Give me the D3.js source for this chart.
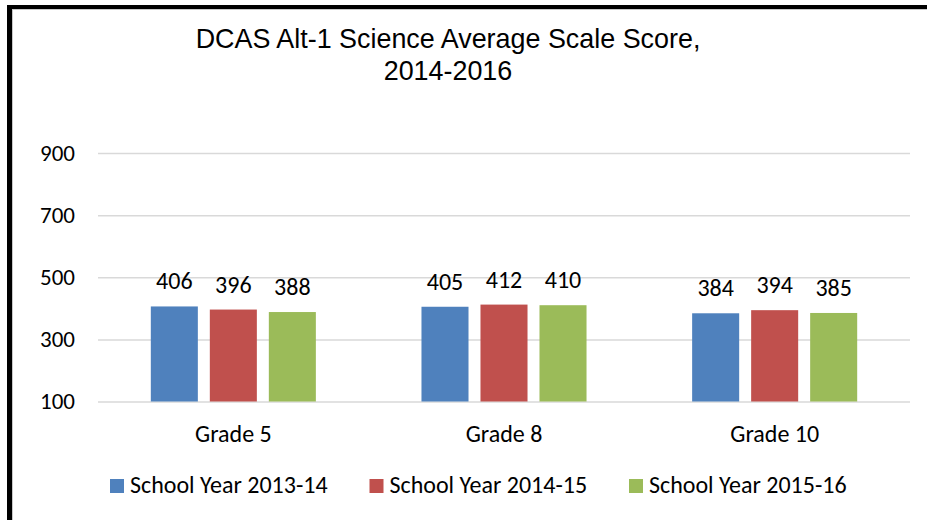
<!DOCTYPE html>
<html>
<head>
<meta charset="utf-8">
<script src="https://cdn.jsdelivr.net/npm/d3@7"></script>
<style>
  body { margin: 0; background: #fff; }
  svg { display: block; }
</style>
</head>
<body>
<div id="chart"></div>
<script>
var categories = ['Grade 5', 'Grade 8', 'Grade 10'];
var seriesNames = ['School Year 2013-14', 'School Year 2014-15', 'School Year 2015-16'];
var seriesValues = [
  [406, 405, 384],
  [396, 412, 394],
  [388, 410, 385]
];
var yTicks = [100, 300, 500, 700, 900];
var titleLines = ['DCAS Alt-1 Science Average Scale Score,', '2014-2016'];

var colors = ['#4f81bd', '#c0504d', '#9bbb59'];
var labelFont = 'Carlito, Calibri, Lato, sans-serif';

var width = 927, height = 520;

var svg = d3.select('#chart').append('svg')
  .attr('width', width)
  .attr('height', height);

// frame (black edge on top and left, thin grey inner line)
svg.append('rect').attr('x', 7).attr('y', 5).attr('width', width - 7).attr('height', 4).attr('fill', '#000');
svg.append('rect').attr('x', 7).attr('y', 5).attr('width', 5).attr('height', height - 5).attr('fill', '#000');
svg.append('line').attr('x1', 12).attr('x2', width).attr('y1', 9.5).attr('y2', 9.5)
  .attr('stroke', '#c8c8c8').attr('stroke-width', 1);
svg.append('line').attr('x1', 12.5).attr('x2', 12.5).attr('y1', 9).attr('y2', height)
  .attr('stroke', '#c8c8c8').attr('stroke-width', 1);

// title
svg.append('g').selectAll('text')
  .data(titleLines)
  .join('text')
  .attr('x', 448)
  .attr('y', function(d, i) { return 48 + i * 32; })
  .attr('text-anchor', 'middle')
  .attr('font-family', 'Liberation Sans, Arial, sans-serif')
  .attr('font-size', 26.9)
  .attr('fill', '#000')
  .text(function(d) { return d; });

var y = d3.scaleLinear().domain([100, 900]).range([401.5, 153]);

var x0 = d3.scaleBand().domain(categories).range([98, 910]).padding(0);
var x1 = d3.scaleBand().domain(d3.range(seriesNames.length))
  .range([0, x0.bandwidth()])
  .paddingInner(0.203)
  .paddingOuter(0.895);

// gridlines + y tick labels via axis
var yAxis = d3.axisLeft(y)
  .tickValues(yTicks)
  .tickSize(-(910 - 98))
  .tickPadding(23);

var gy = svg.append('g')
  .attr('transform', 'translate(98,0)')
  .call(yAxis);
gy.select('.domain').remove();
gy.selectAll('.tick line').attr('stroke', '#d9d9d9').attr('stroke-width', 1.5);
gy.selectAll('.tick text')
  .attr('font-family', labelFont)
  .attr('font-size', 23)
  .attr('fill', '#000');

// bars
var groups = svg.append('g').selectAll('g')
  .data(categories)
  .join('g')
  .attr('transform', function(d) { return 'translate(' + x0(d) + ',0)'; });

groups.selectAll('rect')
  .data(function(d, ci) {
    return seriesValues.map(function(vals, si) { return { s: si, v: vals[ci] }; });
  })
  .join('rect')
  .attr('x', function(d) { return x1(d.s); })
  .attr('y', function(d) { return y(d.v); })
  .attr('width', x1.bandwidth())
  .attr('height', function(d) { return y(100) - y(d.v); })
  .attr('fill', function(d) { return colors[d.s]; });

groups.selectAll('text')
  .data(function(d, ci) {
    return seriesValues.map(function(vals, si) { return { s: si, v: vals[ci] }; });
  })
  .join('text')
  .attr('x', function(d) { return x1(d.s) + x1.bandwidth() / 2; })
  .attr('y', function(d) { return y(d.v) - 17; })
  .attr('text-anchor', 'middle')
  .attr('font-family', labelFont)
  .attr('font-size', 24)
  .attr('fill', '#000')
  .text(function(d) { return d.v; });

// category labels
var xAxis = d3.axisBottom(x0).tickSize(0).tickPadding(0);
var gx = svg.append('g')
  .attr('transform', 'translate(0,' + 426 + ')')
  .call(xAxis);
gx.select('.domain').remove();
gx.selectAll('.tick text')
  .attr('dy', 0)
  .attr('y', 16)
  .attr('font-family', labelFont)
  .attr('font-size', 24)
  .attr('fill', '#000');

// legend
var legend = svg.append('g').selectAll('g')
  .data(seriesNames)
  .join('g')
  .attr('transform', function(d, i) { return 'translate(' + (110 + i * 259.5) + ',479)'; });

legend.append('rect')
  .attr('width', 14)
  .attr('height', 14)
  .attr('fill', function(d, i) { return colors[i]; });

legend.append('text')
  .attr('x', 20)
  .attr('y', 14)
  .attr('font-family', labelFont)
  .attr('font-size', 24)
  .attr('fill', '#000')
  .text(function(d) { return d; });
</script>
</body>
</html>
